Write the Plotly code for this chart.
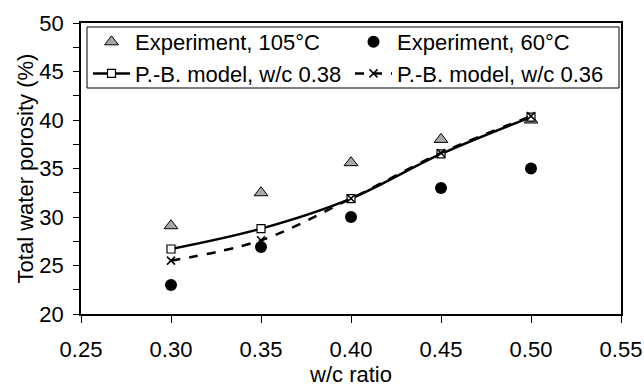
import plotly.graph_objects as go

wc = [0.30, 0.35, 0.40, 0.45, 0.50]
exp105 = [29.1, 32.5, 35.6, 38.0, 40.0]
exp60 = [23.0, 26.9, 30.0, 33.0, 35.0]
model038 = [26.7, 28.8, 31.9, 36.5, 40.3]
model036 = [25.5, 27.6, 31.9, 36.6, 40.4]

FONT = "Liberation Sans, Arial, sans-serif"
FS = 22
LW = 210  # legend text-area width (px) per entry

fig = go.Figure()
fig.add_trace(go.Scatter(
    x=wc, y=exp105, mode="markers", name="Experiment, 105°C", legendwidth=LW,
    marker=dict(symbol="triangle-up", size=12, color="#a8a8a8",
                line=dict(color="black", width=1))))
fig.add_trace(go.Scatter(
    x=wc, y=exp60, mode="markers", name="Experiment, 60°C", legendwidth=LW,
    marker=dict(symbol="circle", size=12, color="black")))
fig.add_trace(go.Scatter(
    x=wc, y=model038, mode="lines+markers", name="P.-B. model, w/c 0.38", legendwidth=LW,
    line=dict(color="black", width=2.5, shape="spline"),
    marker=dict(symbol="square", size=8, color="white",
                line=dict(color="black", width=1.2))))
fig.add_trace(go.Scatter(
    x=wc, y=model036, mode="lines+markers", name="P.-B. model, w/c 0.36", legendwidth=LW,
    line=dict(color="black", width=2.5, dash="dash", shape="spline"),
    marker=dict(symbol="x-thin", size=8, color="black",
                line=dict(color="black", width=1.5))))

# legend frame (decoration)
fig.add_shape(type="rect", xref="paper", yref="paper",
              x0=6 / 540, x1=538 / 540, y0=226 / 291, y1=287 / 291,
              line=dict(color="black", width=1), fillcolor="rgba(0,0,0,0)",
              layer="above")

fig.update_layout(
    width=644, height=388,
    margin=dict(l=81, r=23, t=23, b=74),
    paper_bgcolor="white", plot_bgcolor="white",
    font=dict(family=FONT, size=FS, color="black"),
    showlegend=True,
    legend=dict(
        orientation="h", x=7 / 540, y=1 + 2 / 291, xanchor="left", yanchor="top",
        entrywidthmode="pixels",
        borderwidth=0, bgcolor="rgba(0,0,0,0)",
        font=dict(family=FONT, size=FS), itemwidth=37,
        tracegroupgap=0),
    xaxis=dict(
        range=[0.25, 0.55], tickvals=[0.25, 0.30, 0.35, 0.40, 0.45, 0.50, 0.55],
        ticktext=["0.25", "0.30", "0.35", "0.40", "0.45", "0.50", "0.55"],
        ticks="outside", ticklen=7, tickcolor="black", tickwidth=1,
        ticklabelstandoff=8, automargin=False,
        showline=True, linecolor="black", linewidth=1.5, mirror=True,
        showgrid=False, zeroline=False,
        title=dict(text="w/c ratio", font=dict(size=FS), standoff=2),
        tickfont=dict(size=FS)),
    yaxis=dict(
        range=[20, 50], tickvals=[20, 25, 30, 35, 40, 45, 50],
        ticks="outside", ticklen=6, tickcolor="black", tickwidth=1,
        ticklabelstandoff=5, automargin=False,
        minor=dict(dtick=2.5, tick0=20, ticks="outside", ticklen=6, tickcolor="black"),
        showline=True, linecolor="black", linewidth=1.5, mirror=True,
        showgrid=False, zeroline=False,
        title=dict(text="Total water porosity (%)", font=dict(size=FS), standoff=0),
        tickfont=dict(size=FS)),
)

fig.write_html("out.html")
